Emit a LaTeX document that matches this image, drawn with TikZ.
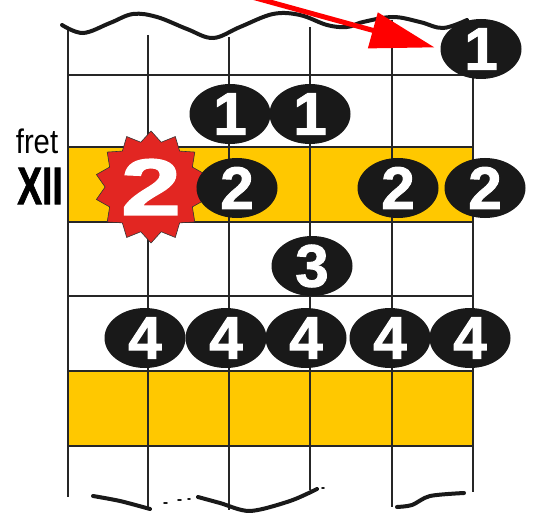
\documentclass[tikz,border=0pt]{standalone}
\usepackage{fontspec}
\setmainfont{Liberation Sans}
\newfontfamily\heavyfont[FakeBold=1.6]{Liberation Sans Bold}
\usetikzlibrary{shapes.geometric, arrows.meta, positioning}

\definecolor{fretgold}{RGB}{255,200,0}
\definecolor{rootred}{RGB}{226,38,34}
\definecolor{pointred}{RGB}{255,0,0}

\begin{document}
\begin{tikzpicture}[x=1pt, y=-1pt, >=Stealth]

    % Define the styles
    \tikzstyle{wire} = [draw=black!85, line width=1.3pt]
    \tikzstyle{wave} = [line width=4pt, line cap=round, black!90]
    \tikzstyle{note} = [ellipse, fill=black!90, minimum width=81pt, minimum height=60pt, inner sep=0pt]
    \tikzstyle{digit} = [text=white, font=\fontsize{60}{60}\heavyfont, inner sep=0pt]
    \tikzstyle{burst} = [star, star points=14, star point ratio=1.22, minimum size=112pt, inner sep=0pt, fill=rootred, draw=black!80, line width=0.6pt]
    \tikzstyle{rootnum} = [text=white, font=\fontsize{80}{80}\heavyfont, xscale=1.35, inner sep=0pt]
    \tikzstyle{arrow} = [-{Triangle[length=64pt, width=36pt]}, line width=5pt, pointred]

    \useasboundingbox (0,0) rectangle (535,513);

    % Fret XII and the octave band
    \fill[fretgold] (68,147) rectangle (473,222);
    \fill[fretgold] (68,371) rectangle (473,446);

    % Frets
    \foreach \y in {75,147,222,296,371,446}
        \draw[wire] (68,\y) -- (473,\y);

    % Strings
    \foreach \x/\top/\bot in {68/30/497, 148/35/507, 229/37/510, 310/27/490, 392/20/507, 473/20/492}
        \draw[wire] (\x,\top) -- (\x,\bot);

    % Wavy ends of the neck
    \draw[wave] plot[smooth, tension=0.6] coordinates {(62,25) (83,33) (110,23) (133,14) (157,17) (187,29) (213,38) (240,27) (273,14) (300,15) (327,25) (347,27) (363,22) (393,17) (420,22) (443,28) (467,20)};
    \draw[wave] plot[smooth] coordinates {(93,496) (120,501) (150,509)};
    \draw[wave, line width=1.8pt] (164,503) -- (167,503) (178,500) -- (181,500) (188,499) -- (190,499);
    \draw[wave] plot[smooth] coordinates {(198,497) (220,503) (250,511) (290,501) (317,489)};
    \draw[wave, line width=1.8pt] (322,488) -- (324,488);
    \draw[wave] plot[smooth] coordinates {(397,507) (412,505) (430,496) (464,493)};

    % Labels
    \node (fretlbl) at (37,141) {\fontsize{34}{34}\selectfont\scalebox{0.86}[1]{fret}};
    \node (fretnum) at (40,186) {\fontsize{53}{53}\heavyfont\scalebox{0.7}[1]{XII}};

    % Root note
    \node (root) [burst] at (151,187) {};
    \node (rootdigit) [rootnum] at (root) {2};

    % Fingered notes
    \foreach \name/\x/\y/\n in {top/481/49/1, oneA/230/114/1, oneB/310/114/1,
        twoA/237/188/2, twoB/398/188/2, twoC/485/188/2, three/312/266/3,
        fourA/145/338/4, fourB/226/338/4, fourC/306/338/4, fourD/390/338/4, fourE/470/338/4}{
        \node (\name) [note] at (\x,\y) {};
        \node (\name num) [digit] at (\name) {\n};
    }

    % Pointer
    \coordinate (tail) at (252,-3);
    \draw[arrow, shorten >=6pt] (tail) -- (top.west);

\end{tikzpicture}
\end{document}
